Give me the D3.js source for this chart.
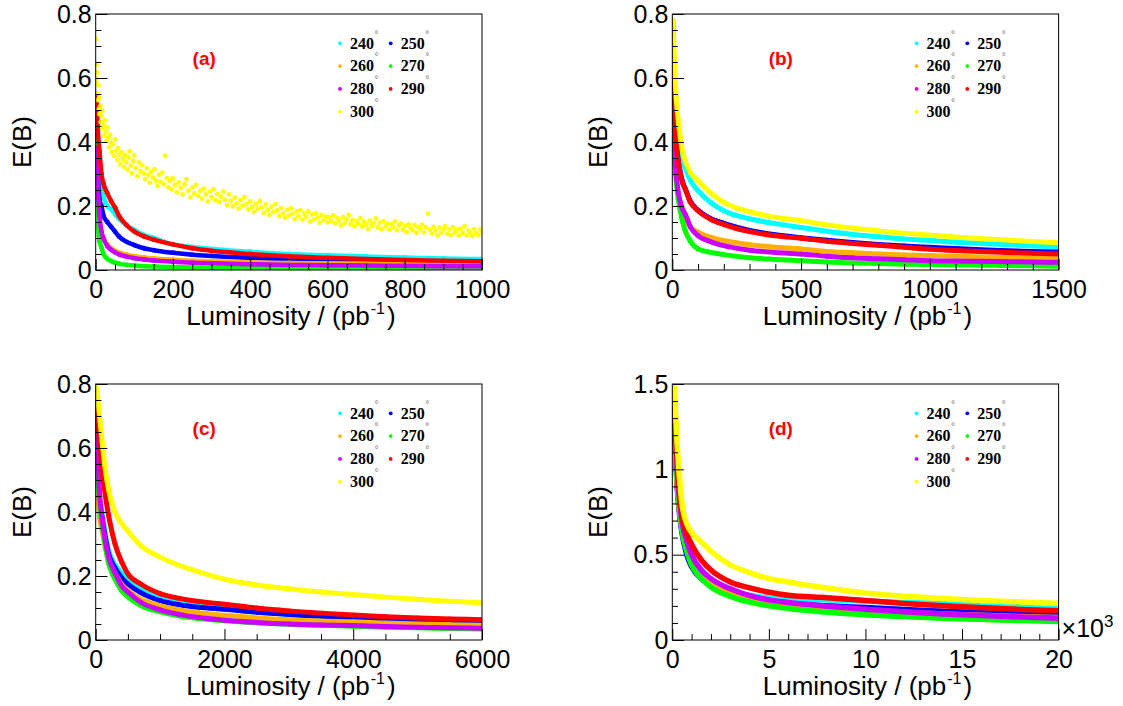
<!DOCTYPE html>
<html>
<head>
<meta charset="utf-8">
<script src="https://cdn.jsdelivr.net/npm/d3@7"></script>
<style>
  body { margin: 0; background: #ffffff; }
  svg { display: block; }
</style>
</head>
<body>
<svg id="chart" width="1123" height="706"></svg>
<script>
// ---- legend categories (field angle in degrees) and marker colours ----
const angles = ["240", "250", "260", "270", "280", "290", "300"];
const colours = ["#00ffff", "#0000ff", "#ffb000", "#00ff00", "#cc00ff", "#ff0000", "#ffff00"];

// ---- tick labels ----
const xTicksA = [0, 200, 400, 600, 800, 1000];
const xTicksB = [0, 500, 1000, 1500];
const xTicksC = [0, 2000, 4000, 6000];
const xTicksD = [0, 5, 10, 15, 20];
const yTicks08 = [0, 0.2, 0.4, 0.6, 0.8];
const yTicks15 = [0, 0.5, 1, 1.5];

// ---- panel (a): luminosity up to 1000 pb^-1 ----
const lumA = [2, 5, 10, 15, 20, 30, 40, 50, 60, 80, 100, 125, 150, 200, 250, 300, 400, 500, 600, 700, 800, 900, 1000];
const a240 = [0.40, 0.33, 0.28, 0.25, 0.23, 0.20, 0.19, 0.175, 0.16, 0.14, 0.125, 0.11, 0.10, 0.08, 0.072, 0.066, 0.057, 0.050, 0.046, 0.042, 0.039, 0.036, 0.034];
const a250 = [0.45, 0.32, 0.22, 0.20, 0.17, 0.15, 0.135, 0.12, 0.105, 0.088, 0.078, 0.068, 0.062, 0.054, 0.048, 0.044, 0.038, 0.034, 0.030, 0.027, 0.025, 0.023, 0.021];
const a260 = [0.45, 0.25, 0.15, 0.11, 0.095, 0.08, 0.068, 0.06, 0.055, 0.048, 0.043, 0.039, 0.036, 0.032, 0.029, 0.027, 0.024, 0.022, 0.021, 0.020, 0.019, 0.018, 0.017];
const a270 = [0.40, 0.17, 0.09, 0.07, 0.05, 0.035, 0.028, 0.023, 0.02, 0.016, 0.014, 0.012, 0.011, 0.009, 0.008, 0.007, 0.006, 0.006, 0.005, 0.005, 0.004, 0.004, 0.004];
const a280 = [0.38, 0.27, 0.17, 0.12, 0.10, 0.075, 0.063, 0.055, 0.049, 0.042, 0.037, 0.033, 0.030, 0.026, 0.023, 0.021, 0.018, 0.016, 0.015, 0.014, 0.013, 0.012, 0.012];
const a290 = [0.55, 0.45, 0.37, 0.30, 0.27, 0.24, 0.215, 0.195, 0.17, 0.14, 0.12, 0.105, 0.095, 0.08, 0.068, 0.06, 0.05, 0.043, 0.038, 0.034, 0.031, 0.029, 0.027];
// 300 degrees in panel (a) is a wide scatter: [luminosity, E(B)] pairs
const a300 = [
  [1,0.722],[2,0.641],[2,0.598],[3,0.583],[4,0.618],[5,0.552],[6,0.531],[7,0.577],[8,0.503],[9,0.538],
  [10,0.487],[12,0.512],[13,0.462],[15,0.481],[17,0.443],[18,0.497],[20,0.452],[22,0.421],[24,0.468],[26,0.433],
  [28,0.404],[30,0.446],[32,0.412],[35,0.384],[37,0.423],[40,0.397],[42,0.368],[45,0.393],[48,0.356],[50,0.408],
  [53,0.372],[56,0.344],[58,0.381],[61,0.359],[64,0.331],[67,0.368],[70,0.347],[73,0.322],[76,0.358],[79,0.337],
  [82,0.314],[85,0.352],[88,0.371],[91,0.326],[94,0.303],[97,0.341],[100,0.358],[104,0.318],[108,0.293],[112,0.336],
  [116,0.309],[120,0.327],[124,0.302],[128,0.284],[132,0.318],[136,0.297],[140,0.273],[144,0.306],[148,0.288],[152,0.315],
  [156,0.279],[160,0.262],[164,0.298],[168,0.276],[172,0.304],[176,0.268],[180,0.357],[184,0.287],[188,0.258],[192,0.279],
  [196,0.252],[200,0.286],[205,0.266],[210,0.243],[215,0.274],[220,0.257],[225,0.236],[230,0.268],[235,0.284],[240,0.248],
  [245,0.227],[250,0.258],[255,0.239],[260,0.266],[265,0.231],[270,0.247],[275,0.223],[280,0.254],[285,0.236],[290,0.214],
  [295,0.245],[300,0.228],[305,0.253],[310,0.218],[315,0.237],[320,0.212],[325,0.229],[330,0.246],[335,0.219],[340,0.203],
  [345,0.236],[350,0.217],[355,0.199],[360,0.226],[365,0.208],[370,0.192],[375,0.219],[380,0.201],[385,0.228],[390,0.206],
  [395,0.189],[400,0.214],[405,0.197],[410,0.181],[415,0.207],[420,0.192],[425,0.216],[430,0.196],[435,0.178],[440,0.205],
  [445,0.187],[450,0.172],[455,0.198],[460,0.181],[465,0.206],[470,0.186],[475,0.168],[480,0.194],[485,0.177],[490,0.163],
  [495,0.188],[500,0.171],[505,0.193],[510,0.176],[515,0.159],[520,0.184],[525,0.168],[530,0.187],[535,0.157],[540,0.176],
  [545,0.166],[550,0.183],[555,0.151],[560,0.174],[565,0.158],[570,0.177],[575,0.163],[580,0.148],[585,0.172],[590,0.156],
  [595,0.167],[600,0.149],[605,0.164],[610,0.153],[615,0.171],[620,0.146],[625,0.162],[630,0.154],[635,0.139],[640,0.165],
  [645,0.147],[650,0.158],[655,0.172],[660,0.143],[665,0.156],[670,0.137],[675,0.153],[680,0.144],[685,0.162],[690,0.136],
  [695,0.151],[700,0.142],[705,0.128],[710,0.154],[715,0.137],[720,0.146],[725,0.161],[730,0.133],[735,0.148],[740,0.127],
  [745,0.152],[750,0.136],[755,0.145],[760,0.126],[765,0.143],[770,0.134],[775,0.151],[780,0.124],[785,0.139],[790,0.146],
  [795,0.125],[800,0.137],[805,0.118],[810,0.143],[815,0.131],[820,0.124],[825,0.141],[830,0.116],[835,0.134],[840,0.127],
  [845,0.142],[850,0.117],[855,0.133],[860,0.176],[865,0.126],[870,0.114],[875,0.135],[880,0.123],[885,0.108],[890,0.132],
  [895,0.117],[900,0.128],[905,0.136],[910,0.113],[915,0.127],[920,0.109],[925,0.134],[930,0.118],[935,0.126],[940,0.107],
  [945,0.129],[950,0.116],[955,0.137],[960,0.108],[965,0.124],[970,0.117],[975,0.106],[980,0.128],[985,0.114],[990,0.109],
  [995,0.126],[1000,0.118]
];

// ---- panel (b): luminosity up to 1500 pb^-1 ----
const lumB = [2, 5, 10, 15, 20, 30, 40, 50, 70, 100, 150, 200, 300, 400, 500, 600, 700, 800, 900, 1000, 1100, 1200, 1300, 1400, 1500];
const b240 = [0.77, 0.66, 0.55, 0.48, 0.44, 0.38, 0.345, 0.321, 0.28, 0.248, 0.21, 0.185, 0.16, 0.145, 0.133, 0.121, 0.111, 0.104, 0.097, 0.092, 0.087, 0.083, 0.079, 0.075, 0.072];
const b250 = [0.68, 0.56, 0.46, 0.40, 0.36, 0.31, 0.275, 0.255, 0.215, 0.187, 0.16, 0.146, 0.124, 0.11, 0.101, 0.093, 0.086, 0.08, 0.075, 0.071, 0.067, 0.063, 0.06, 0.058, 0.056];
const b260 = [0.58, 0.46, 0.36, 0.30, 0.26, 0.21, 0.18, 0.16, 0.135, 0.118, 0.102, 0.092, 0.079, 0.071, 0.066, 0.058, 0.054, 0.05, 0.047, 0.045, 0.043, 0.041, 0.039, 0.038, 0.036];
const b270 = [0.74, 0.55, 0.34, 0.28, 0.24, 0.19, 0.15, 0.123, 0.09, 0.066, 0.055, 0.048, 0.038, 0.033, 0.029, 0.025, 0.022, 0.02, 0.018, 0.017, 0.016, 0.015, 0.014, 0.013, 0.012];
const b280 = [0.78, 0.50, 0.36, 0.30, 0.26, 0.215, 0.19, 0.175, 0.135, 0.107, 0.088, 0.076, 0.062, 0.055, 0.05, 0.043, 0.038, 0.035, 0.032, 0.029, 0.028, 0.027, 0.026, 0.025, 0.024];
const b290 = [0.65, 0.58, 0.47, 0.40, 0.36, 0.305, 0.272, 0.253, 0.212, 0.185, 0.158, 0.142, 0.12, 0.107, 0.099, 0.09, 0.083, 0.077, 0.071, 0.065, 0.061, 0.058, 0.055, 0.052, 0.05];
const b300 = [0.78, 0.72, 0.62, 0.54, 0.49, 0.42, 0.37, 0.342, 0.305, 0.279, 0.24, 0.211, 0.182, 0.165, 0.154, 0.141, 0.131, 0.122, 0.115, 0.109, 0.103, 0.098, 0.094, 0.089, 0.085];

// ---- panel (c): luminosity up to 6000 pb^-1 ----
const lumC = [10, 50, 100, 150, 200, 300, 400, 500, 700, 1000, 1300, 1600, 2000, 2500, 3000, 3500, 4000, 4500, 5000, 5500, 6000];
const c240 = [0.55, 0.45, 0.40, 0.33, 0.28, 0.235, 0.21, 0.19, 0.16, 0.13, 0.115, 0.105, 0.098, 0.088, 0.08, 0.074, 0.069, 0.065, 0.061, 0.058, 0.055];
const c250 = [0.58, 0.45, 0.38, 0.32, 0.27, 0.225, 0.195, 0.175, 0.148, 0.123, 0.11, 0.102, 0.096, 0.087, 0.08, 0.074, 0.07, 0.065, 0.061, 0.058, 0.055];
const c260 = [0.70, 0.40, 0.34, 0.29, 0.25, 0.21, 0.175, 0.155, 0.128, 0.107, 0.094, 0.085, 0.077, 0.069, 0.063, 0.059, 0.057, 0.053, 0.05, 0.048, 0.046];
const c270 = [0.74, 0.45, 0.36, 0.29, 0.24, 0.19, 0.155, 0.135, 0.108, 0.088, 0.075, 0.067, 0.06, 0.054, 0.049, 0.046, 0.043, 0.04, 0.038, 0.036, 0.034];
const c280 = [0.78, 0.50, 0.38, 0.31, 0.26, 0.21, 0.17, 0.15, 0.118, 0.094, 0.08, 0.07, 0.062, 0.055, 0.05, 0.047, 0.045, 0.042, 0.04, 0.038, 0.037];
const c290 = [0.74, 0.64, 0.53, 0.45, 0.39, 0.30, 0.245, 0.207, 0.175, 0.145, 0.13, 0.12, 0.112, 0.10, 0.091, 0.084, 0.078, 0.073, 0.069, 0.066, 0.063];
const c300 = [0.79, 0.72, 0.62, 0.53, 0.47, 0.40, 0.365, 0.34, 0.295, 0.259, 0.233, 0.213, 0.19, 0.172, 0.16, 0.15, 0.142, 0.134, 0.127, 0.121, 0.116];

// ---- panel (d): luminosity up to 20 x 10^3 pb^-1 ----
const lumD = [0.1, 0.25, 0.5, 0.75, 1, 1.5, 2, 3, 4, 5, 6, 8, 10, 12, 14, 16, 18, 20];
const d240 = [1.38, 0.95, 0.66, 0.53, 0.46, 0.38, 0.33, 0.285, 0.262, 0.245, 0.237, 0.235, 0.228, 0.22, 0.212, 0.205, 0.199, 0.193];
const d250 = [1.25, 0.90, 0.63, 0.50, 0.43, 0.36, 0.32, 0.27, 0.24, 0.222, 0.212, 0.2, 0.19, 0.178, 0.168, 0.16, 0.153, 0.147];
const d260 = [1.30, 0.92, 0.65, 0.53, 0.45, 0.37, 0.325, 0.275, 0.245, 0.225, 0.21, 0.19, 0.175, 0.163, 0.153, 0.145, 0.138, 0.132];
const d270 = [1.30, 0.95, 0.65, 0.52, 0.44, 0.36, 0.31, 0.255, 0.222, 0.20, 0.185, 0.163, 0.148, 0.137, 0.128, 0.121, 0.114, 0.109];
const d280 = [1.35, 1.00, 0.70, 0.58, 0.50, 0.41, 0.36, 0.30, 0.26, 0.235, 0.22, 0.198, 0.18, 0.165, 0.153, 0.143, 0.135, 0.128];
const d290 = [1.40, 1.05, 0.73, 0.62, 0.56, 0.47, 0.41, 0.34, 0.305, 0.28, 0.262, 0.248, 0.232, 0.214, 0.20, 0.189, 0.179, 0.172];
const d300 = [1.48, 1.15, 0.80, 0.68, 0.63, 0.575, 0.52, 0.44, 0.395, 0.36, 0.34, 0.305, 0.275, 0.257, 0.243, 0.232, 0.223, 0.215];

// ---- layout ----
const FRAME_W = 386.3, FRAME_H = 256;
const SANS = "'Liberation Sans', Arial, Helvetica, sans-serif";
const SERIF = "'Liberation Serif', 'Times New Roman', serif";

const pairs = (xs, ys) => d3.zip(xs, ys);

const panels = [
  { tag: "(a)", left: 95.7, top: 14, xMax: 1000, xTicks: xTicksA, xMinor: 50, yMax: 0.8, yTicks: yTicks08, yMinor: 0.05,
    series: [pairs(lumA, a240), pairs(lumA, a250), pairs(lumA, a260), pairs(lumA, a270), pairs(lumA, a280), pairs(lumA, a290), a300],
    scatter: [false, false, false, false, false, false, true], band: 4.5 },
  { tag: "(b)", left: 672.3, top: 14, xMax: 1500, xTicks: xTicksB, xMinor: 100, yMax: 0.8, yTicks: yTicks08, yMinor: 0.05,
    series: [pairs(lumB, b240), pairs(lumB, b250), pairs(lumB, b260), pairs(lumB, b270), pairs(lumB, b280), pairs(lumB, b290), pairs(lumB, b300)],
    scatter: [false, false, false, false, false, false, false], band: 5 },
  { tag: "(c)", left: 95.7, top: 384, xMax: 6000, xTicks: xTicksC, xMinor: 500, yMax: 0.8, yTicks: yTicks08, yMinor: 0.05,
    series: [pairs(lumC, c240), pairs(lumC, c250), pairs(lumC, c260), pairs(lumC, c270), pairs(lumC, c280), pairs(lumC, c290), pairs(lumC, c300)],
    scatter: [false, false, false, false, false, false, false], band: 5 },
  { tag: "(d)", left: 672.3, top: 384, xMax: 20, xTicks: xTicksD, xMinor: 1, yMax: 1.5, yTicks: yTicks15, yMinor: 0.1,
    series: [pairs(lumD, d240), pairs(lumD, d250), pairs(lumD, d260), pairs(lumD, d270), pairs(lumD, d280), pairs(lumD, d290), pairs(lumD, d300)],
    scatter: [false, false, false, false, false, false, false], band: 5.5, exponent: "3" }
];

const svg = d3.select("#chart");
const fmt = d => String(+(+d).toFixed(3));

panels.forEach((p, pi) => {
  const x = d3.scaleLinear([0, p.xMax], [p.left, p.left + FRAME_W]);
  const y = d3.scaleLinear([0, p.yMax], [p.top + FRAME_H, p.top]);
  const bottom = p.top + FRAME_H;

  const clipId = "clip" + pi;
  svg.append("clipPath").attr("id", clipId)
    .append("rect").attr("x", p.left).attr("y", p.top).attr("width", FRAME_W).attr("height", FRAME_H);

  const plot = svg.append("g").attr("clip-path", `url(#${clipId})`);
  const line = d3.line().x(d => x(d[0])).y(d => y(d[1])).curve(d3.curveMonotoneX);

  p.series.forEach((pts, si) => {
    const col = colours[si];
    if (!p.scatter[si]) {
      plot.append("path").datum(pts)
        .attr("d", line)
        .attr("fill", "none")
        .attr("stroke", col)
        .attr("stroke-width", p.band)
        .attr("stroke-linecap", "round")
        .attr("stroke-linejoin", "round");
    }
    plot.append("g").selectAll("circle").data(pts).join("circle")
      .attr("cx", d => x(d[0])).attr("cy", d => y(d[1]))
      .attr("r", 2.4).attr("fill", col);
  });

  // minor ticks (inside the frame)
  const xMinorVals = d3.range(0, p.xMax + 1e-9, p.xMinor).filter(v => !p.xTicks.some(t => Math.abs(t - v) < 1e-9));
  const yMinorVals = d3.range(0, p.yMax + 1e-9, p.yMinor).filter(v => !p.yTicks.some(t => Math.abs(t - v) < 1e-9));

  const xMinorAxis = svg.append("g").attr("transform", `translate(0,${bottom})`)
    .call(d3.axisBottom(x).tickValues(xMinorVals).tickSize(-6).tickFormat(""));
  const yMinorAxis = svg.append("g").attr("transform", `translate(${p.left},0)`)
    .call(d3.axisLeft(y).tickValues(yMinorVals).tickSize(-5.7).tickFormat(""));

  // major ticks with labels
  const xAxis = svg.append("g").attr("transform", `translate(0,${bottom})`)
    .call(d3.axisBottom(x).tickValues(p.xTicks).tickSize(-11).tickPadding(10).tickFormat(fmt));
  const yAxis = svg.append("g").attr("transform", `translate(${p.left},0)`)
    .call(d3.axisLeft(y).tickValues(p.yTicks).tickSize(-11.7).tickPadding(4).tickFormat(fmt));

  [xMinorAxis, yMinorAxis, xAxis, yAxis].forEach(a => {
    a.select(".domain").remove();
    a.selectAll("line").attr("stroke", "#000").attr("stroke-width", 1);
    a.selectAll("text").attr("fill", "#000").style("font-family", SANS).style("font-size", "25px");
  });

  // frame
  svg.append("rect").attr("x", p.left).attr("y", p.top)
    .attr("width", FRAME_W).attr("height", FRAME_H)
    .attr("fill", "none").attr("stroke", "#000").attr("stroke-width", 1);

  // axis titles
  const xt = svg.append("text")
    .attr("x", p.left + FRAME_W / 2 + 2).attr("y", bottom + 55)
    .attr("text-anchor", "middle").style("font-family", SANS).style("font-size", "26px")
    .text("Luminosity / (pb");
  xt.append("tspan").attr("dx", 1).attr("dy", -11).style("font-size", "16px").text("-1");
  xt.append("tspan").attr("dx", 2).attr("dy", 11).text(")");

  svg.append("text")
    .attr("transform", `translate(${p.left - 74},${p.top + FRAME_H / 2}) rotate(-90)`)
    .attr("text-anchor", "middle").attr("dominant-baseline", "central")
    .style("font-family", SANS).style("font-size", "26px")
    .text("E(B)");

  if (p.exponent) {
    const ex = svg.append("text")
      .attr("x", p.left + FRAME_W + 3).attr("y", bottom - 3)
      .style("font-family", SANS).style("font-size", "25px")
      .text("\u00d710");
    ex.append("tspan").attr("dy", -10).style("font-size", "17px").text(p.exponent);
  }

  // panel tag
  svg.append("text")
    .attr("x", p.left + 108.5).attr("y", p.top + 51)
    .attr("text-anchor", "middle")
    .style("font-family", SANS).style("font-size", "19px").style("font-weight", "bold")
    .attr("fill", "#ff0000")
    .text(p.tag);

  // legend: two columns, four rows
  angles.forEach((a, i) => {
    const col = i % 2, row = Math.floor(i / 2);
    const mx = p.left + (col === 0 ? 244.3 : 295);
    const cy = p.top + 29.3 + row * 22.8;
    svg.append("circle").attr("cx", mx).attr("cy", cy).attr("r", 1.9).attr("fill", colours[i]);
    const t = svg.append("text")
      .attr("x", mx + 10).attr("y", cy + 5.2)
      .style("font-family", SERIF).style("font-size", "16px").style("font-weight", "bold")
      .attr("fill", "#000")
      .text(a);
    t.append("tspan").attr("dx", 0.5).attr("dy", -11)
      .style("font-family", SANS).style("font-size", "10px").style("font-weight", "normal")
      .attr("fill", "#777").text("\u00b0");
  });
});
</script>
</body>
</html>
